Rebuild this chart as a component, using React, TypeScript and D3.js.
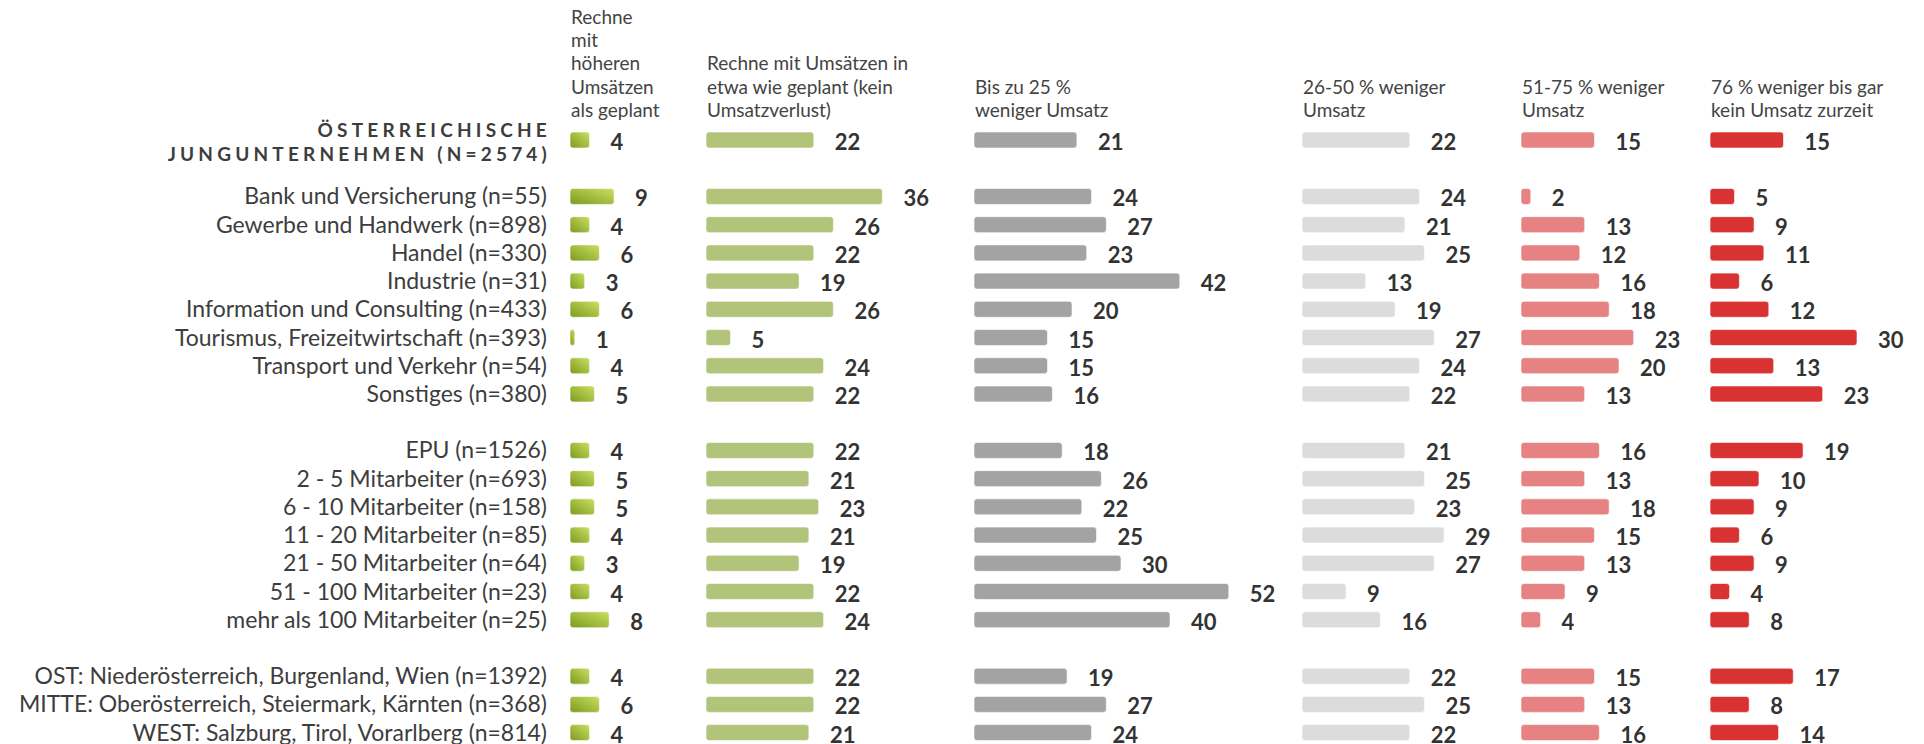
import React, { useEffect, useRef } from 'react';
import * as d3 from 'd3';

// Column headers (as printed, line by line)
const seriesHeaders: string[][] = [
  ['Rechne', 'mit', 'höheren', 'Umsätzen', 'als geplant'],
  ['Rechne mit Umsätzen in', 'etwa wie geplant (kein', 'Umsatzverlust)'],
  ['Bis zu 25 %', 'weniger Umsatz'],
  ['26-50 % weniger', 'Umsatz'],
  ['51-75 % weniger', 'Umsatz'],
  ['76 % weniger bis gar', 'kein Umsatz zurzeit'],
];

const totalLabel = ['ÖSTERREICHISCHE', 'JUNGUNTERNEHMEN (N=2574)'];

const branchen = [
  'Bank und Versicherung (n=55)',
  'Gewerbe und Handwerk (n=898)',
  'Handel (n=330)',
  'Industrie (n=31)',
  'Information und Consulting (n=433)',
  'Tourismus, Freizeitwirtschaft (n=393)',
  'Transport und Verkehr (n=54)',
  'Sonstiges (n=380)',
];

const groessen = [
  'EPU (n=1526)',
  '2 - 5 Mitarbeiter (n=693)',
  '6 - 10 Mitarbeiter (n=158)',
  '11 - 20 Mitarbeiter (n=85)',
  '21 - 50 Mitarbeiter (n=64)',
  '51 - 100 Mitarbeiter (n=23)',
  'mehr als 100 Mitarbeiter (n=25)',
];

const regionen = [
  'OST: Niederösterreich, Burgenland, Wien (n=1392)',
  'MITTE: Oberösterreich, Steiermark, Kärnten (n=368)',
  'WEST: Salzburg, Tirol, Vorarlberg (n=814)',
];

// values in %, order: total, branchen, groessen, regionen
const hoeher =   [4, 9, 4, 6, 3, 6, 1, 4, 5, 4, 5, 5, 4, 3, 4, 8, 4, 6, 4];
const wieGeplant = [22, 36, 26, 22, 19, 26, 5, 24, 22, 22, 21, 23, 21, 19, 22, 24, 22, 22, 21];
const bis25 =    [21, 24, 27, 23, 42, 20, 15, 15, 16, 18, 26, 22, 25, 30, 52, 40, 19, 27, 24];
const bis50 =    [22, 24, 21, 25, 13, 19, 27, 24, 22, 21, 25, 23, 29, 27, 9, 16, 22, 25, 22];
const bis75 =    [15, 2, 13, 12, 16, 18, 23, 20, 13, 16, 13, 18, 15, 13, 9, 4, 15, 13, 16];
const bis100 =   [15, 5, 9, 11, 6, 12, 30, 13, 23, 19, 10, 9, 6, 9, 4, 8, 17, 8, 14];

const series = [hoeher, wieGeplant, bis25, bis50, bis75, bis100];
const colors = ['url(#gradGreen)', '#b1c479', '#a3a3a3', '#dcdcdc', '#e68282', '#d93232'];
const colStarts = [570, 706, 974, 1302, 1521, 1710];

const App: React.FC = () => {
  const svgRef = useRef<SVGSVGElement>(null);

  useEffect(() => {
    if (!svgRef.current) return;
    const svg = d3.select(svgRef.current);
    svg.selectAll('*').remove();

    // slot index for each data row (blank slots between groups)
    const slots: number[] = [0];
    branchen.forEach((_, i) => slots.push(2 + i));
    groessen.forEach((_, i) => slots.push(11 + i));
    regionen.forEach((_, i) => slots.push(19 + i));
    const labels = [...branchen, ...groessen, ...regionen];

    const y = d3.scaleLinear().domain([0, 21]).range([140, 732.6]);
    const x = d3.scaleLinear().domain([0, 100]).range([0, 490]);
    const barH = 16;
    const labelRight = 547;

    const defs = svg.append('defs');
    const g = defs.append('linearGradient').attr('id', 'gradGreen')
      .attr('x1', 0).attr('y1', 1).attr('x2', 1).attr('y2', 0);
    g.append('stop').attr('offset', '0%').attr('stop-color', '#7c9b1e');
    g.append('stop').attr('offset', '100%').attr('stop-color', '#cadf62');

    // title
    const title = svg.append('text')
      .attr('text-anchor', 'end')
      .attr('font-family', 'Lato, sans-serif')
      .attr('font-weight', 700)
      .attr('font-size', 19)
      .attr('letter-spacing', 4.2)
      .attr('fill', '#3d3d3d');
    totalLabel.forEach((t, i) => {
      title.append('tspan').attr('x', labelRight + 4).attr('y', 137 + i * 24).text(t);
    });

    // row labels
    svg.append('g').selectAll('text')
      .data(labels)
      .enter()
      .append('text')
      .attr('x', labelRight)
      .attr('y', (d, i) => y(slots[i + 1]) + 8)
      .attr('text-anchor', 'end')
      .attr('font-family', 'Lato, sans-serif')
      .attr('font-size', 23)
      .attr('fill', '#3d3d3d')
      .text(d => d);

    series.forEach((vals, s) => {
      const col = svg.append('g').attr('transform', `translate(${colStarts[s]},0)`);

      // header
      const lines = seriesHeaders[s];
      const head = col.append('text')
        .attr('font-family', 'Lato, sans-serif')
        .attr('font-size', 19)
        .attr('fill', '#444');
      lines.forEach((t, i) => {
        head.append('tspan')
          .attr('x', 1)
          .attr('y', 117 - (lines.length - 1 - i) * 23.3)
          .text(t);
      });

      col.selectAll('rect')
        .data(vals)
        .enter()
        .append('rect')
        .attr('x', 0)
        .attr('y', (d, i) => y(slots[i]) - barH / 2)
        .attr('width', d => x(d))
        .attr('height', barH)
        .attr('rx', 3)
        .attr('fill', colors[s])
        .attr('stroke', 'rgba(255,255,255,0.6)')
        .attr('stroke-width', 1);

      col.selectAll('text.val')
        .data(vals)
        .enter()
        .append('text')
        .attr('class', 'val')
        .attr('x', d => x(d) + 21)
        .attr('y', (d, i) => y(slots[i]) + 10)
        .attr('font-family', 'Lato, sans-serif')
        .attr('font-weight', 700)
        .attr('font-size', 22)
        .attr('fill', '#333')
        .text(d => d);
    });
  }, []);

  return (
    <div>
      <style>{`body{margin:0;background:#fff}`}</style>
      <svg ref={svgRef} width={1924} height={744} style={{ display: 'block' }} />
    </div>
  );
};

export default App;
